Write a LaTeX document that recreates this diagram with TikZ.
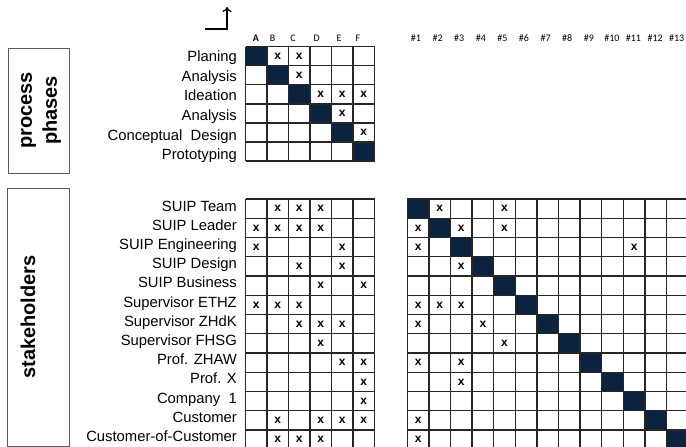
\documentclass[tikz,border=0pt]{standalone}
\usepackage{fontspec}
\setmainfont{Liberation Sans}
\newfontfamily\hdrfont{Carlito}
\usetikzlibrary{arrows.meta}
\definecolor{navy}{RGB}{12,35,64}
\definecolor{boxgray}{RGB}{90,90,90}
\begin{document}
\begin{tikzpicture}[x=1pt,y=-1pt,
  lbl/.style={anchor=base east, inner sep=0pt, font=\fontsize{14.8}{16}\selectfont},
  xmark/.style={inner sep=0pt, font=\bfseries\fontsize{12}{12}\selectfont},
  hdr/.style={anchor=base, inner sep=0pt, font=\hdrfont\fontsize{10}{10}\selectfont},
  gridln/.style={draw=black!85, line width=1.4pt},
  sidebox/.style={draw=boxgray, line width=0.9pt},
  sidetext/.style={rotate=90, inner sep=0pt, align=center, font=\bfseries\fontsize{20}{25}\selectfont}
]
\clip (0,0) rectangle (686,447);
\fill[white] (0,0) rectangle (686,447);

% ---------- side boxes ----------
\draw[sidebox] (8,48) rectangle (69,173);
\node[sidetext] (pp) at (41,110.5) {process\\phases};
\draw[sidebox] (7,188) rectangle (69,446);
\node[sidetext] (sh) at (28,317) {stakeholders};

% ---------- arrow ----------
\coordinate (a0) at (205,29);
\coordinate (a1) at (227,29);
\coordinate (a2) at (227,7);
\draw[line width=1.3pt, -{To[length=5pt,width=9pt]}] (a0) -- (a1) -- (a2);

% ---------- headers ----------
\foreach \t/\xx in {B/272.7,C/293,D/316.7,E/339,F/358}
  \node[hdr] (h\t) at (\xx,41.5) {\t};
\node[hdr,font=\hdrfont\bfseries\fontsize{10}{10}\selectfont] (hA) at (256,41.5) {A};
\foreach \n in {1,...,9}
  \node[hdr] (hn\n) at (416+\n*21.6-21.6,41.5) {\#\n};
\foreach \n in {10,...,13}
  \node[hdr] (hn\n) at (417.5+\n*21.6-21.6,41.5) {\#\n};

% ---------- top matrix ----------
\def\tx{245.5}\def\ty{46.5}\def\cw{21.5}\def\rh{19.1}
\foreach \i in {0,...,5}
  \fill[navy] (\tx+\i*\cw,\ty+\i*\rh) rectangle ++(\cw,\rh);
\foreach \i in {0,...,6}
  \draw[gridln] (\tx+\i*\cw,\ty) -- ++(0,6*\rh);
\foreach \i in {0,...,6}
  \draw[gridln] (\tx,\ty+\i*\rh) -- ++(6*\cw,0);
\foreach \r/\c in {1/2,1/3,2/3,3/4,3/5,3/6,4/5,5/6}
  \node[xmark] (t\r-\c) at (\tx+\c*\cw-0.5*\cw,\ty+\r*\rh-0.5*\rh) {x};
\foreach \t [count=\i] in {Planing,Analysis,Ideation,Analysis,Conceptual\ \ Design,Prototyping}
  \node[lbl] (tl\i) at (237,56+\i*19.7-19.7+5.3) {\t};

% ---------- bottom-left matrix ----------
\def\by{199}\def\brh{19.25}
\foreach \i in {0,...,6}
  \draw[gridln] (\tx+\i*\cw,\by) -- ++(0,13*\brh);
\foreach \i in {0,...,13}
  \draw[gridln] (\tx,\by+\i*\brh) -- ++(6*\cw,0);
\foreach \r/\c in {1/2,1/3,1/4, 2/1,2/2,2/3,2/4, 3/1,3/5, 4/3,4/5, 5/4,5/6,
                   6/1,6/2,6/3, 7/3,7/4,7/5, 8/4, 9/5,9/6, 10/6, 11/6,
                   12/2,12/4,12/5,12/6, 13/2,13/3,13/4}
  \node[xmark] (b\r-\c) at (\tx+\c*\cw-0.5*\cw,\by+\r*\brh-0.5*\brh) {x};
\foreach \t [count=\i] in {SUIP Team,SUIP Leader,SUIP Engineering,SUIP Design,SUIP Business,
    Supervisor ETHZ,Supervisor ZHdK,Supervisor FHSG,Prof. ZHAW,Prof. X,Company\ \ 1,Customer,Customer-of-Customer}
  \node[lbl] (bl\i) at (237,206+\i*19.17-19.17+5.3) {\t};

% ---------- right matrix ----------
\def\rx{407.3}\def\rcw{21.6}
\foreach \i in {0,...,12}
  \fill[navy] (\rx+\i*\rcw,\by+\i*\brh) rectangle ++(\rcw,\brh);
\foreach \i in {0,...,13}
  \draw[gridln] (\rx+\i*\rcw,\by) -- ++(0,13*\brh);
\foreach \i in {0,...,13}
  \draw[gridln] (\rx,\by+\i*\brh) -- ++(13*\rcw,0);
\foreach \r/\c in {1/2,1/5, 2/1,2/3,2/5, 3/1,3/11, 4/3, 6/1,6/2,6/3, 7/1,7/4, 8/5,
                   9/1,9/3, 10/3, 12/1, 13/1}
  \node[xmark] (r\r-\c) at (\rx+\c*\rcw-0.5*\rcw,\by+\r*\brh-0.5*\brh) {x};
\end{tikzpicture}
\end{document}
